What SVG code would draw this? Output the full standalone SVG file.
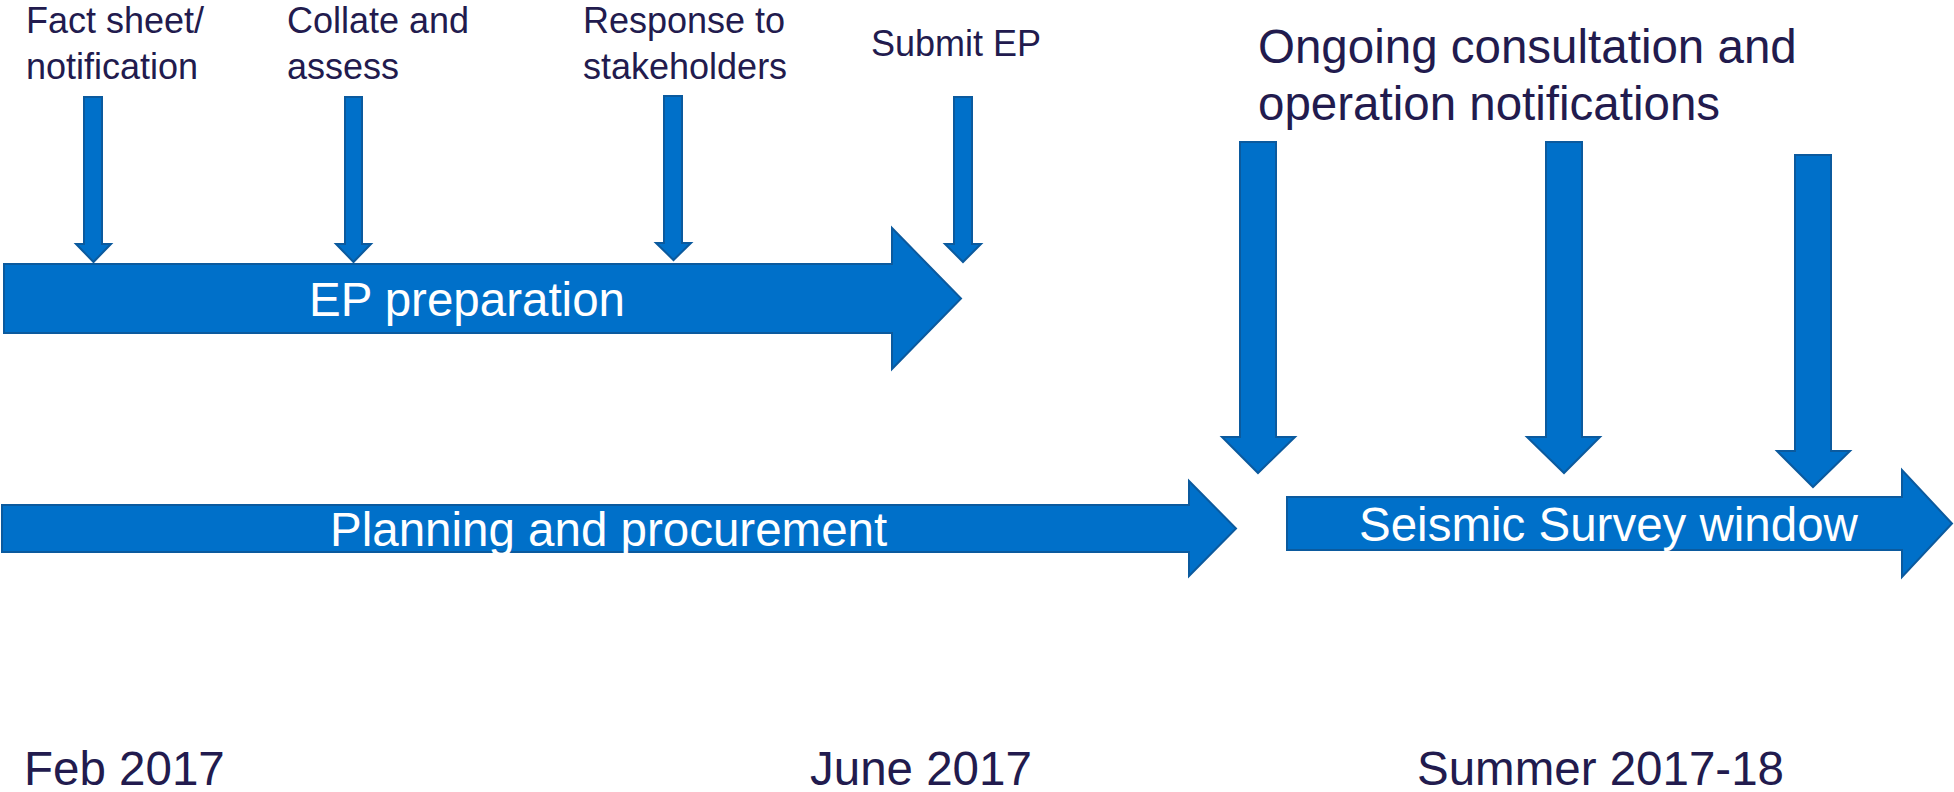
<svg xmlns="http://www.w3.org/2000/svg" width="1954" height="792" viewBox="0 0 1954 792">
  <style>
    .shape { fill: #0070C9; stroke: #0B5A9E; stroke-width: 2; stroke-linejoin: miter; }
    .label { font-family: "Liberation Sans", Arial, sans-serif; fill: #221B4E; }
    .small { font-size: 36px; }
    .big { font-size: 47.5px; }
    .inbar { font-family: "Liberation Sans", Arial, sans-serif; font-size: 47.5px; fill: #FFFFFF; }
  </style>
  <rect width="1954" height="792" fill="#FFFFFF"/>

  <!-- milestone labels above the preparation bar -->
  <g id="label-fact-sheet">
    <text class="label small" x="26" y="33">Fact sheet/</text>
    <text class="label small" x="26" y="79">notification</text>
  </g>
  <g id="label-collate">
    <text class="label small" x="287" y="33">Collate and</text>
    <text class="label small" x="287" y="79">assess</text>
  </g>
  <g id="label-response">
    <text class="label small" x="583" y="33">Response to</text>
    <text class="label small" x="583" y="79">stakeholders</text>
  </g>
  <g id="label-submit">
    <text class="label small" x="871" y="56">Submit EP</text>
  </g>
  <g id="label-ongoing">
    <text class="label big" x="1258" y="63">Ongoing consultation and</text>
    <text class="label big" x="1258" y="120">operation notifications</text>
  </g>

  <!-- down arrows -->
  <g id="connectors">
    <polygon class="shape" points="84,97 102,97 102,244 111,244 93.5,262 76,244 84,244"/>
    <polygon class="shape" points="345,97 362,97 362,244 371,244 353.5,262 336,244 345,244"/>
    <polygon class="shape" points="664,96 682,96 682,243 691,243 673.5,260 656,243 664,243"/>
    <polygon class="shape" points="954,97 972,97 972,244 981,244 963,262 945,244 954,244"/>
    <polygon class="shape" points="1240,142 1276,142 1276,437 1295,437 1258,473 1222,437 1240,437"/>
    <polygon class="shape" points="1546,142 1582,142 1582,437 1600,437 1564,473 1527,437 1546,437"/>
    <polygon class="shape" points="1795,155 1831,155 1831,451 1850,451 1813,487 1777,451 1795,451"/>
  </g>

  <!-- timeline bars -->
  <g id="bar-ep-preparation">
    <polygon class="shape" points="4,264 892,264 892,228 961,298.5 892,369 892,333 4,333"/>
    <text class="inbar" x="309" y="316">EP preparation</text>
  </g>
  <g id="bar-planning">
    <polygon class="shape" points="2,505 1189,505 1189,481 1236,528.5 1189,576 1189,552 2,552"/>
    <text class="inbar" x="330" y="546">Planning and procurement</text>
  </g>
  <g id="bar-seismic">
    <polygon class="shape" points="1287,497 1902,497 1902,470 1952,523.5 1902,577 1902,550 1287,550"/>
    <text class="inbar" x="1359" y="541">Seismic Survey window</text>
  </g>

  <!-- dates along the bottom -->
  <g id="dates">
    <text class="label big" x="24" y="785">Feb 2017</text>
    <text class="label big" x="810" y="785">June 2017</text>
    <text class="label big" x="1417" y="785">Summer 2017-18</text>
  </g>
</svg>
